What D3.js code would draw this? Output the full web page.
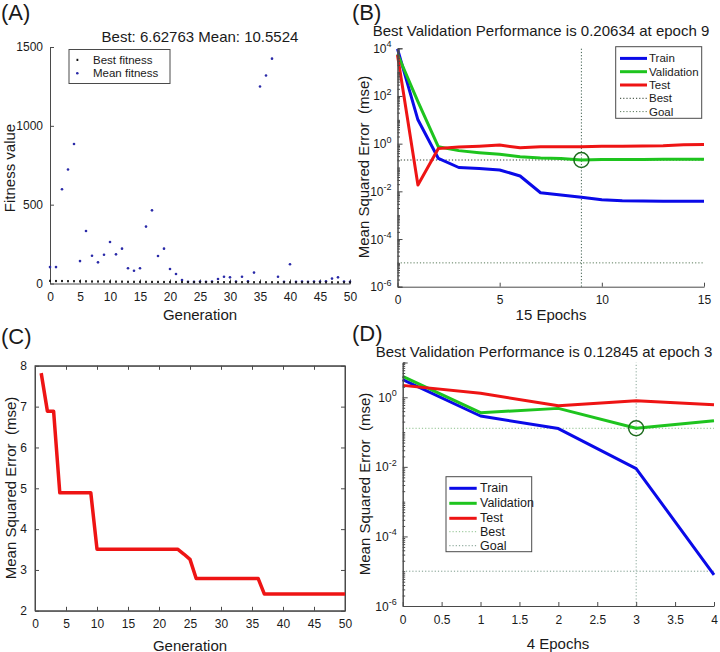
<!DOCTYPE html>
<html><head><meta charset="utf-8">
<script src="https://cdn.jsdelivr.net/npm/d3@7"></script>
<style>
body{margin:0;background:#fff}
svg{display:block}
text{font-family:"Liberation Sans",Arial,sans-serif;fill:#1a1a1a;white-space:pre}
</style>
</head><body>
<svg id="chart" width="720" height="652"></svg>
<script>
// ---------- Panel A : GA fitness ----------
const genA = [0,1,2,3,4,5,6,7,8,9,10,11,12,13,14,15,16,17,18,19,20,21,22,23,24,25,26,27,28,29,30,31,32,33,34,35,36,37,38,39,40,41,42,43,44,45,46,47,48,49,50];
const bestFitA = [16,15,15,14,14,13,13,12,12,12,11,11,11,10,10,10,10,9.5,9.5,9,9,9,8.8,8.6,8.5,8.4,8.3,8.2,8.1,8,7.9,7.8,7.7,7.6,7.5,7.4,7.3,7.2,7.1,7.05,7,6.95,6.9,6.85,6.8,6.75,6.72,6.7,6.68,6.65,6.62763];
const meanFitA = [104,104,598,723,885,142,333,176,134,182,263,185,221,97,81,97,361,464,174,221,92,60,22,11,10,12,11,12,29,43,39,12,43,14,69,1249,1319,1426,43,11,122,11,12,11,12,13,14,31,39,12,10.5524];
const xTicksA = [0,5,10,15,20,25,30,35,40,45,50];
const yTicksA = [0,500,1000,1500];

// ---------- Panel B : training performance (15 epochs) ----------
const epochsB = [0,1,2,3,4,5,6,7,8,9,10,11,12,13,14,15];
const trainB = [9500,10,0.24,0.1,0.09,0.079,0.044,0.0087,0.0071,0.0056,0.0044,0.0040,0.0039,0.0038,0.0038,0.0038];
const validB = [5700,58,0.74,0.51,0.42,0.36,0.28,0.25,0.24,0.20634,0.215,0.215,0.215,0.22,0.22,0.22];
const testB  = [5200,0.0186,0.62,0.72,0.78,0.87,0.68,0.74,0.74,0.75,0.78,0.78,0.8,0.82,0.9,0.92];
const bestEpochB = 9, bestValB = 0.20634;
const xTicksB = [0,5,10,15];

// ---------- Panel C : GA best MSE per generation ----------
const genC = [1,2,3,4,5,6,7,8,9,10,11,12,13,14,15,16,17,18,19,20,21,22,23,24,25,26,27,28,29,30,31,32,33,34,35,36,37,38,39,40,41,42,43,44,45,46,47,48,49,50];
const mseC = [7.82,6.89,6.89,4.89,4.89,4.89,4.89,4.89,4.89,3.51,3.51,3.51,3.51,3.51,3.51,3.51,3.51,3.51,3.51,3.51,3.51,3.51,3.51,3.39,3.26,2.79,2.79,2.79,2.79,2.79,2.79,2.79,2.79,2.79,2.79,2.79,2.41,2.41,2.41,2.41,2.41,2.41,2.41,2.41,2.41,2.41,2.41,2.41,2.41,2.41];
const xTicksC = [0,5,10,15,20,25,30,35,40,45,50];
const yTicksC = [2,3,4,5,6,7,8];

// ---------- Panel D : training performance (4 epochs) ----------
const epochsD = [0,1,2,3,4];
const trainD = [3.2,0.29,0.126,0.0089,7.9e-6];
const validD = [4.0,0.36,0.48,0.12845,0.21];
const testD  = [2.2,1.3,0.57,0.8,0.61];
const bestEpochD = 3, bestValD = 0.12845;
const xTicksD = [0,0.5,1,1.5,2,2.5,3,3.5,4];

const goalMSE = 1e-5;
const seriesNames = ["Train","Validation","Test","Best","Goal"];

const C_BLUE = "#0a0ae8", C_GREEN = "#1ec41e", C_RED = "#ee1414";
const AX = "#4a4a4a";
const plain = d => String(d);
const svg = d3.select("#chart");

function styleAxis(g){
  g.select(".domain").attr("stroke",AX).attr("stroke-width",1);
  g.selectAll(".tick line").attr("stroke",AX).attr("stroke-width",1);
  g.selectAll(".tick text").attr("fill","#1a1a1a").style("font-size","12px")
   .style("font-family",'"Liberation Sans",Arial,sans-serif');
}
function label(x,y,txt,size,anchor,rot){
  const t = svg.append("text").attr("x",x).attr("y",y).text(txt)
    .style("font-size",size+"px").attr("text-anchor",anchor||"middle")
    .attr("dominant-baseline","central");
  if(rot) t.attr("transform",`rotate(${rot},${x},${y})`);
  return t;
}
function logAxisLeft(g, y, minE, maxE, labelEvery){
  const minors=[], majors=[];
  for(let e=minE;e<maxE;e++){ for(let k=2;k<=9;k++) minors.push(k*Math.pow(10,e)); }
  for(let e=minE;e<=maxE;e++){ if((e-minE)%labelEvery===0) majors.push(Math.pow(10,e)); else minors.push(Math.pow(10,e)); }
  g.append("g").call(d3.axisLeft(y).tickValues(minors).tickSize(-2.5).tickFormat("")).call(styleAxis);
  g.append("g").call(d3.axisLeft(y).tickValues(majors).tickSize(-5).tickFormat("")).call(styleAxis);
  majors.forEach(v=>{
    const e = Math.round(Math.log10(v));
    const t = g.append("text").attr("x",-6).attr("y",y(v)+4.5).attr("text-anchor","end").style("font-size","12px");
    t.append("tspan").text("10");
    t.append("tspan").attr("dy",-5.5).style("font-size","9px").text(e);
  });
}

// ================= Panel A =================
(function(){
  const x = d3.scaleLinear().domain([0,50]).range([50,350]);
  const y = d3.scaleLinear().domain([0,1500]).range([283.5,47]);
  const g = svg.append("g");
  g.append("g").attr("transform","translate(0,283.5)")
    .call(d3.axisBottom(x).tickValues(xTicksA).tickFormat(plain).tickSize(-4).tickSizeOuter(0).tickPadding(9)).call(styleAxis);
  g.append("g").attr("transform","translate(50,0)")
    .call(d3.axisLeft(y).tickValues(yTicksA).tickFormat(plain).tickSize(-4).tickSizeOuter(0).tickPadding(7)).call(styleAxis);
  g.selectAll(".mean").data(genA).join("circle")
    .attr("cx",d=>x(d)).attr("cy",(d,i)=>y(meanFitA[i])).attr("r",1.3).attr("fill","#2a2aa8");
  g.selectAll(".best").data(genA).join("rect")
    .attr("x",d=>x(d)-0.9).attr("y",(d,i)=>y(bestFitA[i])-1.2).attr("width",1.8).attr("height",2.2).attr("fill","#111");
  // legend
  g.append("rect").attr("x",69).attr("y",49.5).attr("width",101).attr("height",34).attr("fill","#fff").attr("stroke",AX);
  g.append("rect").attr("x",76.5).attr("y",58.8).attr("width",1.8).attr("height",2.2).attr("fill","#111");
  g.append("circle").attr("cx",77.3).attr("cy",73.2).attr("r",1.3).attr("fill","#2a2aa8");
  label(93,59.8,"Best fitness",11.5,"start");
  label(93,73.3,"Mean fitness",11.5,"start");
  label(200,36.5,"Best: "+bestFitA[bestFitA.length-1]+" Mean: "+meanFitA[meanFitA.length-1],15);
  label(200,314,"Generation",15);
  label(9,168,"Fitness value",15,"middle",-90);
  label(1,12,"(A)",22,"start");
})();

// ================= Panel B =================
(function(){
  const x = d3.scaleLinear().domain([0,15]).range([397.5,704]);
  const y = d3.scaleLog().domain([1e-6,1e4]).range([286.7,48.3]);
  const g = svg.append("g");
  g.append("line").attr("x1",x(0)).attr("x2",x(15)).attr("y1",y(goalMSE)).attr("y2",y(goalMSE))
    .attr("stroke","#5a7a5a").attr("stroke-dasharray","1.2,2");
  g.append("line").attr("x1",x(0)).attr("x2",x(15)).attr("y1",y(bestValB)).attr("y2",y(bestValB))
    .attr("stroke","#2a3a2a").attr("stroke-dasharray","1.2,2");
  g.append("line").attr("x1",x(bestEpochB)).attr("x2",x(bestEpochB)).attr("y1",y(1e-6)).attr("y2",y(1e4))
    .attr("stroke","#3f5f4f").attr("stroke-dasharray","1.2,2");
  const line = d3.line().x((d,i)=>x(epochsB[i])).y(d=>y(d));
  [[trainB,C_BLUE],[validB,C_GREEN],[testB,C_RED]].forEach(([s,c])=>{
    g.append("path").attr("d",line(s)).attr("fill","none").attr("stroke",c).attr("stroke-width",3).attr("stroke-linejoin","round");
  });
  g.append("circle").attr("cx",x(bestEpochB)).attr("cy",y(bestValB)).attr("r",7.5).attr("fill","none").attr("stroke","#1c6a1c").attr("stroke-width",1.5);
  g.append("g").attr("transform","translate(0,286.7)")
    .call(d3.axisBottom(x).tickValues(xTicksB).tickFormat(plain).tickSize(-4).tickSizeOuter(0).tickPadding(9)).call(styleAxis);
  const ga = g.append("g").attr("transform","translate(397.5,0)");
  logAxisLeft(ga,y,-6,4,2);
  // legend
  const L = g.append("g");
  L.append("rect").attr("x",615.7).attr("y",46.7).attr("width",86).attr("height",71.6).attr("fill","#fff").attr("stroke",AX);
  const ly=[58.4,71.7,85,98.3,111.6];
  const sty=[[C_BLUE,null,3],[C_GREEN,null,3],[C_RED,null,3],["#2a3a2a","1.2,2",1],["#5a7a5a","1.2,2",1]];
  seriesNames.forEach((n,i)=>{
    L.append("line").attr("x1",620).attr("x2",647).attr("y1",ly[i]).attr("y2",ly[i])
      .attr("stroke",sty[i][0]).attr("stroke-width",sty[i][2]).attr("stroke-dasharray",sty[i][1]);
    label(649,ly[i],n,11.5,"start");
  });
  label(541,30.5,"Best Validation Performance is "+bestValB+" at epoch "+bestEpochB,15);
  label(551,314,"15 Epochs",15);
  label(363,167,"Mean Squared Error  (mse)",15,"middle",-90);
  label(352,12,"(B)",22,"start");
})();

// ================= Panel C =================
(function(){
  const x = d3.scaleLinear().domain([0,50]).range([35,345]);
  const y = d3.scaleLinear().domain([2,8]).range([610.8,365.8]);
  const g = svg.append("g");
  g.append("rect").attr("x",35).attr("y",365.8).attr("width",310).attr("height",245).attr("fill","none").attr("stroke",AX);
  g.append("g").attr("transform","translate(0,610.8)")
    .call(d3.axisBottom(x).tickValues(xTicksC).tickFormat(plain).tickSize(-4).tickSizeOuter(0).tickPadding(9)).call(styleAxis);
  g.append("g").attr("transform","translate(0,365.8)")
    .call(d3.axisTop(x).tickValues(xTicksC).tickSize(-4).tickSizeOuter(0).tickFormat("")).call(styleAxis);
  g.append("g").attr("transform","translate(35,0)")
    .call(d3.axisLeft(y).tickValues(yTicksC).tickFormat(plain).tickSize(-4).tickSizeOuter(0).tickPadding(8)).call(styleAxis);
  g.append("g").attr("transform","translate(345,0)")
    .call(d3.axisRight(y).tickValues(yTicksC).tickSize(-4).tickSizeOuter(0).tickFormat("")).call(styleAxis);
  const line = d3.line().x((d,i)=>x(genC[i])).y(d=>y(d));
  g.append("path").attr("d",line(mseC)).attr("fill","none").attr("stroke",C_RED).attr("stroke-width",3.5).attr("stroke-linejoin","round");
  label(190,645,"Generation",15);
  label(10,488,"Mean Squared Error  (mse)",15,"middle",-90);
  label(1,336,"(C)",22,"start");
})();

// ================= Panel D =================
(function(){
  const x = d3.scaleLinear().domain([0,4]).range([402.7,714]);
  const y = d3.scaleLog().domain([1e-6,1e1]).range([606,362.5]);
  const g = svg.append("g");
  g.append("line").attr("x1",x(0)).attr("x2",x(4)).attr("y1",y(goalMSE)).attr("y2",y(goalMSE))
    .attr("stroke","#7a9a8a").attr("stroke-dasharray","1.2,2");
  g.append("line").attr("x1",x(0)).attr("x2",x(4)).attr("y1",y(bestValD)).attr("y2",y(bestValD))
    .attr("stroke","#8cc08c").attr("stroke-dasharray","1.2,2");
  g.append("line").attr("x1",x(bestEpochD)).attr("x2",x(bestEpochD)).attr("y1",y(1e-6)).attr("y2",y(1e1))
    .attr("stroke","#8aa89a").attr("stroke-dasharray","1.2,2");
  const line = d3.line().x((d,i)=>x(epochsD[i])).y(d=>y(d));
  [[trainD,C_BLUE],[validD,C_GREEN],[testD,C_RED]].forEach(([s,c])=>{
    g.append("path").attr("d",line(s)).attr("fill","none").attr("stroke",c).attr("stroke-width",3).attr("stroke-linejoin","round");
  });
  g.append("circle").attr("cx",x(bestEpochD)).attr("cy",y(bestValD)).attr("r",7.5).attr("fill","none").attr("stroke","#1c6a1c").attr("stroke-width",1.5);
  g.append("g").attr("transform","translate(0,606)")
    .call(d3.axisBottom(x).tickValues(xTicksD).tickFormat(plain).tickSize(-4).tickSizeOuter(0).tickPadding(9)).call(styleAxis);
  const ga = g.append("g").attr("transform","translate(402.7,0)");
  logAxisLeft(ga,y,-6,1,2);
  const L = g.append("g");
  L.append("rect").attr("x",446).attr("y",476.7).attr("width",85.7).attr("height",75).attr("fill","#fff").attr("stroke",AX);
  const ly=[488.3,503.3,518.3,531.7,545.7];
  const sty=[[C_BLUE,null,3],[C_GREEN,null,3],[C_RED,null,3],["#8cc08c","1.2,2",1],["#7a9a8a","1.2,2",1]];
  seriesNames.forEach((n,i)=>{
    L.append("line").attr("x1",449.3).attr("x2",476.7).attr("y1",ly[i]).attr("y2",ly[i])
      .attr("stroke",sty[i][0]).attr("stroke-width",sty[i][2]).attr("stroke-dasharray",sty[i][1]);
    label(480,ly[i],n,12.5,"start");
  });
  label(544,351.5,"Best Validation Performance is "+bestValD+" at epoch "+bestEpochD,15);
  label(558,643,"4 Epochs",15);
  label(364,484,"Mean Squared Error  (mse)",15,"middle",-90);
  label(352,333,"(D)",22,"start");
})();
</script>
</body></html>
